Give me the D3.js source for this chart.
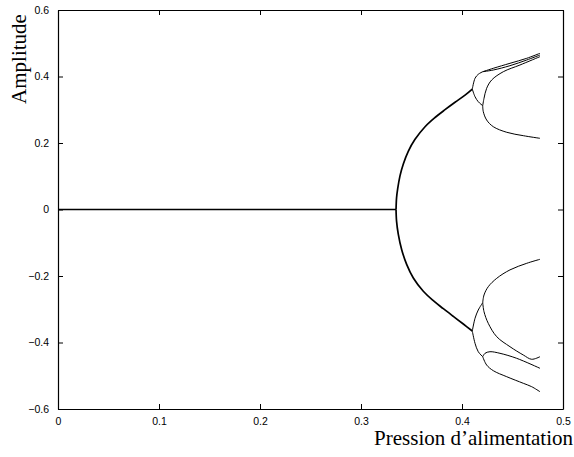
<!DOCTYPE html>
<html>
<head>
<meta charset="utf-8">
<script src="https://cdn.jsdelivr.net/npm/d3@7"></script>
<style>
  body { margin: 0; background: #fff; }
  svg { display: block; }
</style>
</head>
<body>
<svg id="chart" width="574" height="457"></svg>
<script>
// ---- data (pression, amplitude) ----
const xTicks = [0, 0.1, 0.2, 0.3, 0.4, 0.5];
const yTicks = [-0.6, -0.4, -0.2, 0, 0.2, 0.4, 0.6];
const xTickLabels = ["0", "0.1", "0.2", "0.3", "0.4", "0.5"];
const yTickLabels = ["\u22120.6", "\u22120.4", "\u22120.2", "0", "0.2", "0.4", "0.6"];

const zeroBranch = [[0, 0], [0.3347, 0]];
const upperMain = [[0.3347, 0], [0.3352, 0.035], [0.3363, 0.062], [0.3386, 0.101], [0.3419, 0.137],
  [0.3468, 0.175], [0.3535, 0.211], [0.3634, 0.249], [0.3733, 0.2767], [0.3832, 0.3002],
  [0.3931, 0.3224], [0.4030, 0.3438], [0.4102, 0.362]];
const lowerMain = [[0.3347, 0], [0.3352, -0.035], [0.3369, -0.074], [0.3403, -0.121], [0.3452, -0.165],
  [0.3518, -0.206], [0.3617, -0.246], [0.3716, -0.2743], [0.3815, -0.2983], [0.3914, -0.3215],
  [0.4013, -0.3444], [0.4102, -0.3654]];

const upperA = [[0.4102, 0.362], [0.4129, 0.3946], [0.4161, 0.4066], [0.4205, 0.4144]];
const upperA1 = [[0.4205, 0.4144], [0.431, 0.4247], [0.4475, 0.4397], [0.4641, 0.4547], [0.4772, 0.4698]];
const upperA2 = [[0.4205, 0.4144], [0.431, 0.4195], [0.4475, 0.4325], [0.4641, 0.4496], [0.4772, 0.4647]];
const upperB = [[0.4102, 0.362], [0.4129, 0.3392], [0.4161, 0.3242], [0.4205, 0.3122]];
const upperB1 = [[0.4205, 0.3122], [0.4218, 0.3344], [0.4244, 0.3645], [0.4294, 0.3895], [0.4409, 0.4144],
  [0.4574, 0.4346], [0.4772, 0.4597]];
const upperB2 = [[0.4205, 0.3122], [0.4211, 0.2941], [0.4244, 0.2692], [0.431, 0.249], [0.4443, 0.2322],
  [0.4607, 0.222], [0.4772, 0.2141]];

const lowerC = [[0.4102, -0.3654], [0.4129, -0.3272], [0.4161, -0.3023], [0.4205, -0.2803]];
const lowerC1 = [[0.4205, -0.2803], [0.4218, -0.2571], [0.426, -0.2322], [0.4344, -0.2069], [0.4475, -0.1816],
  [0.4641, -0.1618], [0.4772, -0.1498]];
const lowerC2 = [[0.4205, -0.2803], [0.4218, -0.3074], [0.426, -0.3423], [0.4344, -0.3826], [0.4475, -0.4126],
  [0.4607, -0.4376], [0.469, -0.4505], [0.4772, -0.4427]];
const lowerD = [[0.4102, -0.3654], [0.4129, -0.4024], [0.4161, -0.4277], [0.4205, -0.4427]];
const lowerD1 = [[0.4205, -0.4427], [0.4228, -0.4325], [0.4277, -0.4277], [0.4376, -0.4325], [0.4541, -0.4475],
  [0.4772, -0.4776]];
const lowerD2 = [[0.4205, -0.4427], [0.4244, -0.4677], [0.431, -0.4848], [0.4443, -0.5029], [0.4607, -0.5227],
  [0.469, -0.5329], [0.4772, -0.548]];

const mainBranches = [zeroBranch, upperMain, lowerMain];
const subBranches = [upperA, upperA1, upperA2, upperB, upperB1, upperB2,
  lowerC, lowerC1, lowerC2, lowerD, lowerD1, lowerD2];

// ---- layout ----
const W = 574, H = 457;
const margin = { left: 58, right: 11, top: 10, bottom: 48 };
const svg = d3.select("#chart");

const x = d3.scaleLinear().domain([0, 0.5]).range([margin.left, W - margin.right]);
const y = d3.scaleLinear().domain([-0.6, 0.6]).range([H - margin.bottom, margin.top]);

const line = d3.line().x(d => x(d[0])).y(d => y(d[1])).curve(d3.curveCatmullRom.alpha(0.5));

svg.append("g").selectAll("path").data(subBranches).join("path")
  .attr("d", line).attr("fill", "none").attr("stroke", "#000").attr("stroke-width", 1);
svg.append("g").selectAll("path").data(mainBranches).join("path")
  .attr("d", line).attr("fill", "none").attr("stroke", "#000").attr("stroke-width", 1.7);

const tickFont = "'Liberation Sans', Arial, sans-serif";
const T = 5;

const xb = d3.axisBottom(x).tickValues(xTicks).tickFormat((d, i) => xTickLabels[i]).tickSizeInner(-T).tickSizeOuter(0).tickPadding(9);
const gxb = svg.append("g").attr("transform", `translate(0,${y(-0.6)})`).call(xb);
const xt = d3.axisTop(x).tickValues(xTicks).tickFormat("").tickSizeInner(-T).tickSizeOuter(0);
const gxt = svg.append("g").attr("transform", `translate(0,${y(0.6)})`).call(xt);
const yl = d3.axisLeft(y).tickValues(yTicks).tickFormat((d, i) => yTickLabels[i]).tickSizeInner(-T).tickSizeOuter(0).tickPadding(9);
const gyl = svg.append("g").attr("transform", `translate(${x(0)},0)`).call(yl);
const yr = d3.axisRight(y).tickValues(yTicks).tickFormat("").tickSizeInner(-T).tickSizeOuter(0);
const gyr = svg.append("g").attr("transform", `translate(${x(0.5)},0)`).call(yr);

[gxb, gxt, gyl, gyr].forEach(g => {
  g.select(".domain").attr("stroke", "#000").attr("stroke-width", 1.2);
  g.selectAll(".tick line").attr("stroke", "#000").attr("stroke-width", 1);
  g.selectAll("text").attr("font-family", tickFont).attr("font-size", 10.5).attr("fill", "#000");
});

const serif = "'Liberation Serif', 'Times New Roman', serif";
svg.append("text")
  .attr("transform", `translate(26,59) rotate(-90)`)
  .attr("text-anchor", "middle")
  .attr("font-family", serif).attr("font-size", 21).attr("fill", "#000")
  .text("Amplitude");
svg.append("text")
  .attr("x", 573).attr("y", 445)
  .attr("text-anchor", "end")
  .attr("font-family", serif).attr("font-size", 21).attr("fill", "#000")
  .text("Pression d\u2019alimentation");
</script>
</body>
</html>
